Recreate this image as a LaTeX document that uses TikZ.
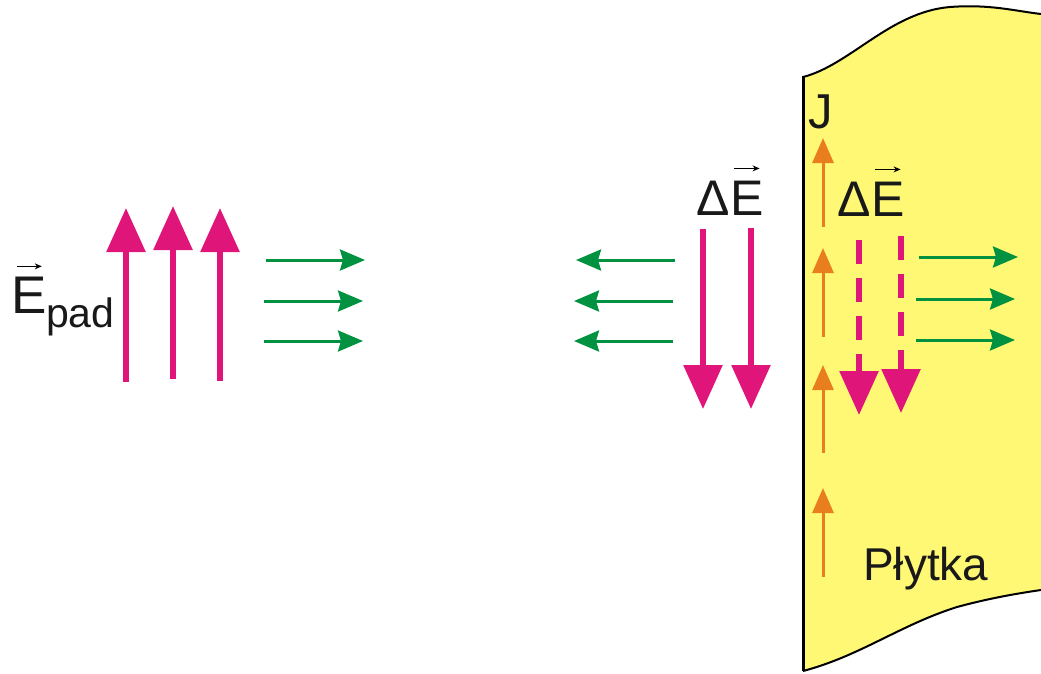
\documentclass[tikz,border=0pt]{standalone}
\usepackage{fontspec}
\setmainfont{Liberation Sans}
\usetikzlibrary{arrows.meta, positioning}
\definecolor{fieldpink}{RGB}{224,21,122}
\definecolor{sidegreen}{RGB}{0,146,64}
\definecolor{currorange}{RGB}{232,126,30}
\definecolor{plateyellow}{RGB}{255,248,117}
\tikzstyle{efield} = [line width=6pt, draw=fieldpink, -{Triangle[length=44pt, width=38pt, fill=fieldpink]}]
\tikzstyle{sidearrow} = [line width=3pt, draw=sidegreen, -{Stealth[length=25pt, width=21pt, inset=3pt, fill=sidegreen]}]
\tikzstyle{current} = [line width=3pt, draw=currorange, -{Triangle[length=25pt, width=21pt, fill=currorange]}]
\tikzstyle{vecmark} = [line width=1.5pt, -{Stealth[length=7pt, width=6pt]}]
\tikzstyle{lbl} = [inner sep=0pt, anchor=base west, text=black!90]

\begin{document}
\begin{tikzpicture}[x=1pt, y=-1pt, every node/.style={font=\fontsize{50}{56}\selectfont}]
  \useasboundingbox (0,0) rectangle (1041,673);

  % Plate
  \fill[plateyellow] (1041,14) .. controls (1015,11) and (990,4) .. (950,7)
    .. controls (890,12) and (850,65) .. (803,77) -- (803,671)
    .. controls (860,656) and (900,625) .. (957,607)
    .. controls (990,598) and (1020,593) .. (1041,590) -- cycle;
  \draw[line width=2pt] (1041,14) .. controls (1015,11) and (990,4) .. (950,7)
    .. controls (890,12) and (850,65) .. (803,77);
  \draw[line width=3pt] (803,76) -- (803,671);
  \draw[line width=2pt] (803,671) .. controls (860,656) and (900,625) .. (957,607)
    .. controls (990,598) and (1020,593) .. (1041,590);

  % Labels
  \node[lbl, font=\fontsize{53}{60}\selectfont] (epad) at (11,313) {E};
  \node[lbl, font=\fontsize{41}{48}\selectfont] (pad) at (46,327) {pad};
  \draw[vecmark] ([xshift=6pt, yshift=10pt]epad.north west) -- ([xshift=-5pt, yshift=10pt]epad.north east);

  \node[lbl] (delta1) at (696,215) {Δ};
  \node[lbl] (de1) at (delta1.base east) {E};
  \draw[vecmark] ([xshift=4pt, yshift=12pt]de1.north west) -- ([xshift=-4pt, yshift=12pt]de1.north east);

  \node[lbl] (delta2) at (837,216) {Δ};
  \node[lbl] (de2) at (delta2.base east) {E};
  \draw[vecmark] ([xshift=4pt, yshift=12pt]de2.north west) -- ([xshift=-4pt, yshift=12pt]de2.north east);

  \node[lbl, font=\fontsize{49}{56}\selectfont] (jlbl) at (808,128) {J};
  \node[lbl, font=\fontsize{46}{52}\selectfont] (plytka) at (863,580) {Płytka};

  % Incident field
  \draw[efield] (126,382) -- (126,208);
  \draw[efield] (173,379) -- (173,206);
  \draw[efield] (220,381) -- (220,208);

  \draw[sidearrow] (266,260) -- (365,260);
  \draw[sidearrow] (264,301) -- (363,301);
  \draw[sidearrow] (264,341) -- (363,341);

  % Reflected field
  \draw[sidearrow] (675,260) -- (576,260);
  \draw[sidearrow] (673,301) -- (574,301);
  \draw[sidearrow] (673,341) -- (574,341);

  \draw[efield] (703,229) -- (703,409);
  \draw[efield] (751,228) -- (751,409);

  % Inside the plate
  \draw[current] (823,227) -- (823,138);
  \draw[current] (823,337) -- (823,248);
  \draw[current] (823,453) -- (823,365);
  \draw[current] (823,577) -- (823,488);

  \draw[efield, dash pattern=on 24pt off 14pt] (859,240) -- (859,415);
  \draw[efield, dash pattern=on 24pt off 14pt] (901,236) -- (901,413);

  \draw[sidearrow] (919,257) -- (1018,257);
  \draw[sidearrow] (916,299) -- (1015,299);
  \draw[sidearrow] (916,340) -- (1015,340);
\end{tikzpicture}
\end{document}
